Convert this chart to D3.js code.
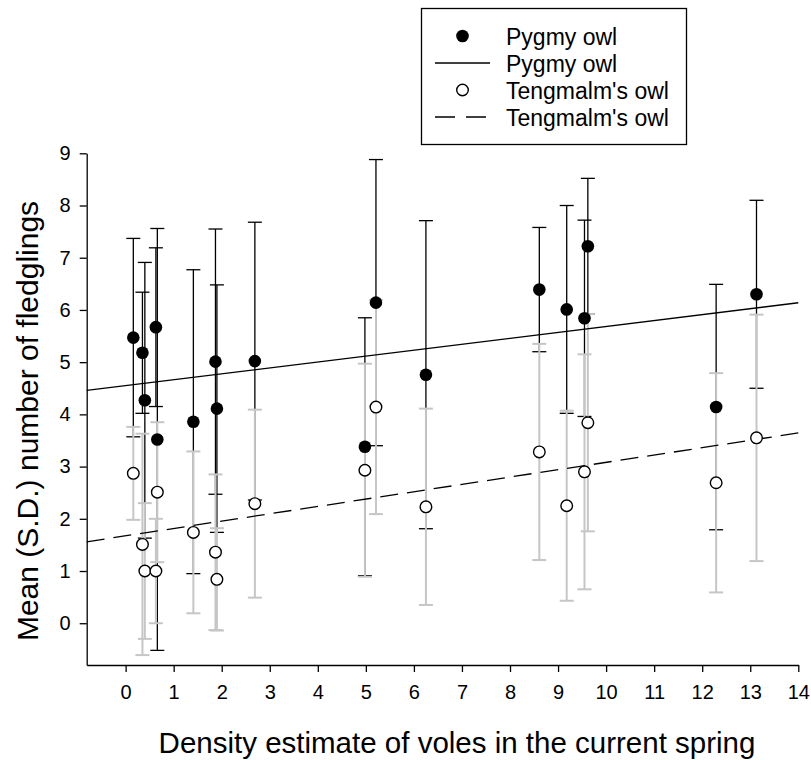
<!DOCTYPE html>
<html>
<head>
<meta charset="utf-8">
<script src="https://cdn.jsdelivr.net/npm/d3@7"></script>
<style>
  body { margin: 0; background: #fff; }
  svg text { font-family: "Liberation Sans", Arial, sans-serif; fill: #000; }
</style>
</head>
<body>
<svg id="chart"></svg>
<script>
// density of voles (shared by both species)
const density = [0.16, 0.35, 0.40, 0.63, 0.66, 1.41, 1.87, 1.90, 2.69, 4.98, 5.21, 6.25, 8.61, 9.18, 9.55, 9.62, 12.29, 13.13]

const pygmyMean = [5.47, 5.18, 4.27, 5.67, 3.52, 3.86, 5.01, 4.11, 5.02, 3.38, 6.14, 4.76, 6.39, 6.01, 5.84, 7.22, 4.14, 6.30]
const pygmySD   = [1.90, 1.16, 2.64, 1.52, 4.04, 2.91, 2.54, 2.37, 2.66, 2.47, 2.74, 2.95, 1.19, 1.99, 1.88, 1.30, 2.35, 1.80]

const tengMean = [2.87, 1.51, 1.00, 1.00, 2.51, 1.74, 1.36, 0.84, 2.29, 2.93, 4.14, 2.23, 3.28, 2.25, 2.90, 3.84, 2.69, 3.55]
const tengSD   = [0.89, 2.12, 1.30, 1.00, 1.34, 1.55, 1.49, 0.98, 1.80, 2.04, 2.05, 1.88, 2.07, 1.82, 2.25, 2.08, 2.10, 2.36]

// regression lines: [intercept, slope]
const pygmyFit = [4.55, 0.1134]
const tengFit  = [1.674, 0.1407]

const xTicks = d3.range(0, 15)
const yTicks = d3.range(0, 10)
const legendLabels = ["Pygmy owl", "Pygmy owl", "Tengmalm's owl", "Tengmalm's owl"]

const W = 811, H = 760
const svg = d3.select("#chart").attr("width", W).attr("height", H)

const x = d3.scaleLinear().domain([-0.81, 14]).range([86.7, 798.3])
const y = d3.scaleLinear().domain([-0.8, 9]).range([665, 153.3])

const GRAY = "#c6c6c6"
const capW = 7

// error bars
function drawBars(mean, sd, colour, width) {
  const g = svg.append("g").attr("stroke", colour).attr("stroke-width", width).attr("fill", "none")
  density.forEach((d, i) => {
    const cx = x(d), top = y(mean[i] + sd[i]), bot = y(mean[i] - sd[i])
    g.append("line").attr("x1", cx).attr("x2", cx).attr("y1", top).attr("y2", bot)
    g.append("line").attr("x1", cx - capW).attr("x2", cx + capW).attr("y1", top).attr("y2", top)
    g.append("line").attr("x1", cx - capW).attr("x2", cx + capW).attr("y1", bot).attr("y2", bot)
  })
}
drawBars(pygmyMean, pygmySD, "#000", 1.3)
drawBars(tengMean, tengSD, GRAY, 2)

// regression lines
const fitLine = (fit) => {
  const xs = x.domain()
  return [[xs[0], fit[0] + fit[1] * xs[0]], [xs[1], fit[0] + fit[1] * xs[1]]]
}
const line = d3.line().x(d => x(d[0])).y(d => y(d[1]))
svg.append("path").attr("d", line(fitLine(pygmyFit)))
  .attr("stroke", "#000").attr("stroke-width", 1.3).attr("fill", "none")
svg.append("path").attr("d", line(fitLine(tengFit)))
  .attr("stroke", "#000").attr("stroke-width", 1.3).attr("fill", "none")
  .attr("stroke-dasharray", "18,9")

// points
svg.append("g").selectAll("circle").data(density).enter().append("circle")
  .attr("cx", d => x(d)).attr("cy", (d, i) => y(pygmyMean[i])).attr("r", 6.3)
  .attr("fill", "#000")
svg.append("g").selectAll("circle").data(density).enter().append("circle")
  .attr("cx", d => x(d)).attr("cy", (d, i) => y(tengMean[i])).attr("r", 5.8)
  .attr("fill", "#fff").attr("stroke", "#000").attr("stroke-width", 1.4)

// axes
const gX = svg.append("g").attr("transform", "translate(0,665)")
  .call(d3.axisBottom(x).tickValues(xTicks).tickSize(7).tickSizeOuter(0).tickPadding(13))
const gY = svg.append("g").attr("transform", "translate(86.7,0)")
  .call(d3.axisLeft(y).tickValues(yTicks).tickSize(7).tickSizeOuter(0).tickPadding(9))
;[gX, gY].forEach(g => {
  g.attr("font-size", null)
  g.selectAll("path, line").attr("stroke", "#000").attr("stroke-width", 1.3)
  g.selectAll("text").style("font-size", "20px")
})

// axis titles
svg.append("text").attr("x", 457).attr("y", 753).attr("text-anchor", "middle")
  .attr("font-size", 29.5).text("Density estimate of voles in the current spring")
svg.append("text").attr("transform", "translate(38,421) rotate(-90)").attr("text-anchor", "middle")
  .attr("font-size", 30).text("Mean (S.D.) number of fledglings")

// legend
const lg = svg.append("g")
lg.append("rect").attr("x", 421.5).attr("y", 8.5).attr("width", 265).attr("height", 136)
  .attr("fill", "#fff").attr("stroke", "#000").attr("stroke-width", 1.3)
const rowY = [36, 63, 90, 117]
lg.append("circle").attr("cx", 462.5).attr("cy", rowY[0]).attr("r", 6.3).attr("fill", "#000")
lg.append("line").attr("x1", 435).attr("x2", 490).attr("y1", rowY[1]).attr("y2", rowY[1])
  .attr("stroke", "#000").attr("stroke-width", 1.3)
lg.append("circle").attr("cx", 462.5).attr("cy", rowY[2]).attr("r", 5.8)
  .attr("fill", "#fff").attr("stroke", "#000").attr("stroke-width", 1.4)
lg.append("line").attr("x1", 435).attr("x2", 490).attr("y1", rowY[3]).attr("y2", rowY[3])
  .attr("stroke", "#000").attr("stroke-width", 1.3).attr("stroke-dasharray", "20,11")
lg.selectAll("text.lbl").data(legendLabels).enter().append("text").attr("class", "lbl")
  .attr("x", 506).attr("y", (d, i) => rowY[i] + 9).attr("font-size", 23).text(d => d)
</script>
</body>
</html>
